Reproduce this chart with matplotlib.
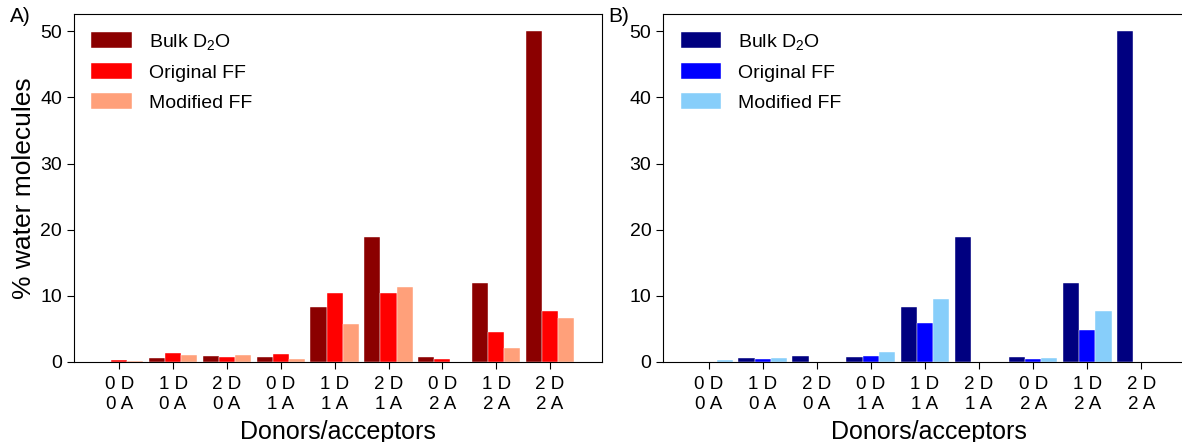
import numpy as np
import matplotlib.pyplot as plt

plt.rcParams['font.family'] = ['Liberation Sans', 'DejaVu Sans']
plt.rcParams['mathtext.fontset'] = 'custom'
plt.rcParams['mathtext.rm'] = 'Liberation Sans'
plt.rcParams['mathtext.it'] = 'Liberation Sans:italic'

categories = ['0 D\n0 A', '1 D\n0 A', '2 D\n0 A',
              '0 D\n1 A', '1 D\n1 A', '2 D\n1 A',
              '0 D\n2 A', '1 D\n2 A', '2 D\n2 A']

# % of water molecules per donor/acceptor class
bulk_a = [0.05, 0.65, 0.9, 0.75, 8.25, 18.9, 0.7, 11.9, 50.1]
orig_a = [0.35, 1.3, 0.8, 1.2, 10.4, 10.5, 0.4, 4.6, 7.65]
mod_a = [0.15, 1.05, 1.05, 0.45, 5.8, 11.3, 0.0, 2.1, 6.6]

bulk_b = [0.05, 0.65, 0.9, 0.75, 8.25, 18.9, 0.7, 11.9, 50.1]
orig_b = [0.05, 0.4, 0.0, 0.9, 5.95, 0.0, 0.4, 4.8, 0.0]
mod_b = [0.25, 0.6, 0.0, 1.5, 9.5, 0.0, 0.55, 7.7, 0.0]

labels = ['Bulk D$_2$O', 'Original FF', 'Modified FF']
colors_a = ['#8b0000', '#ff0000', '#ffa07a']
colors_b = ['#000080', '#0000ff', '#87cefa']

fig = plt.figure(figsize=(11.82, 4.42), dpi=100)
ax_a = fig.add_axes([0.0626, 0.181, 0.447, 0.787])
ax_b = fig.add_axes([0.561, 0.181, 0.449, 0.787])

x = np.arange(len(categories))
w = 0.3


def draw_panel(ax, series, colors, ylabel):
    for i, (vals, c, lab) in enumerate(zip(series, colors, labels)):
        ax.bar(x + (i - 1) * w, vals, width=w, color=c, label=lab,
               edgecolor='white', linewidth=0.3)
    ax.set_xlim(-0.84, 8.97)
    ax.set_ylim(0, 52.6)
    ax.set_xticks(x)
    ax.set_xticklabels(categories, fontsize=13.5, linespacing=1.25)
    ax.set_yticks(range(0, 51, 10))
    ax.tick_params(axis='y', labelsize=14, length=5)
    ax.tick_params(axis='x', length=5, pad=5)
    ax.set_xlabel('Donors/acceptors', fontsize=18, labelpad=5)
    if ylabel:
        ax.set_ylabel('% water molecules', fontsize=19, labelpad=3)
    ax.legend(loc='upper left', frameon=False, fontsize=14,
              handlelength=2.1, handleheight=0.85, borderaxespad=0.05,
              labelspacing=0.6, handletextpad=0.85, borderpad=0.85)


draw_panel(ax_a, [bulk_a, orig_a, mod_a], colors_a, True)
draw_panel(ax_b, [bulk_b, orig_b, mod_b], colors_b, False)

fig.text(0.008, 0.95, 'A)', fontsize=15)
fig.text(0.515, 0.95, 'B)', fontsize=15)

fig.savefig('out.png', dpi=100)
